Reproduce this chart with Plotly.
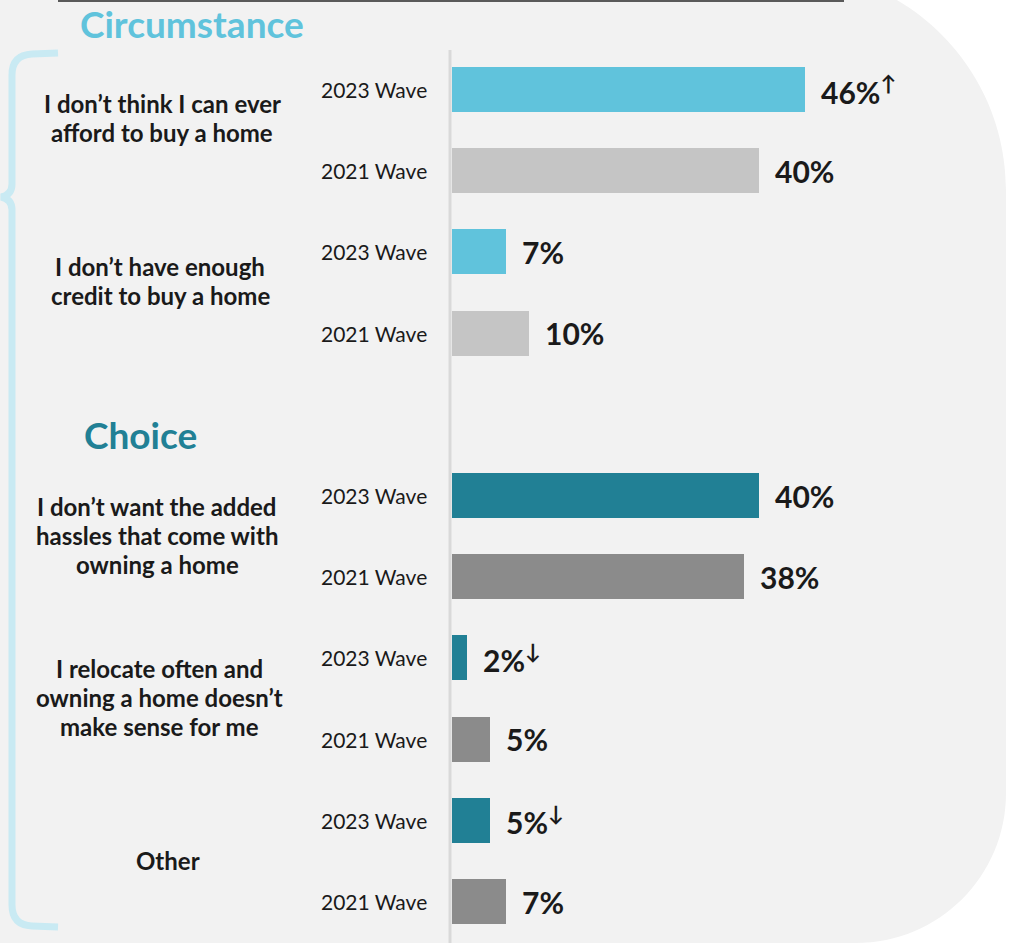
import plotly.graph_objects as go

# ---------------- data ----------------
reasons = [
    "I don’t think I can ever\nafford to buy a home",
    "I don’t have enough\ncredit to buy a home",
    "I don’t want the added\nhassles that come with\nowning a home",
    "I relocate often and\nowning a home doesn’t\nmake sense for me",
    "Other",
]
reason_group = ["Circumstance", "Circumstance", "Choice", "Choice", "Choice"]
waves = ["2023 Wave", "2021 Wave"]
values_2023 = [46, 7, 40, 2, 5]
values_2021 = [40, 10, 38, 5, 7]
sig_2023 = ["↑", "", "", "↓", "↓"]
sig_2021 = ["", "", "", "", ""]
group_titles = ["Circumstance", "Choice"]

# ---------------- styling / layout ----------------
W, H = 1013, 943
FONT = "Lato"
TXT = "#1a1a1a"
COLORS = {
    ("Circumstance", 0): "#60c3dc",
    ("Circumstance", 1): "#c5c5c5",
    ("Choice", 0): "#218095",
    ("Choice", 1): "#8b8b8b",
}
TITLE_COLORS = {"Circumstance": "#60c3dc", "Choice": "#218095"}

X0_PX = 452          # pixel of zero
PX_PER_UNIT = 7.674
ROW0_PX = 89.5
ROW_PX = 81.2
BAR_PX = 45

def px_x(px):
    return px / W

def px_y(py):
    return 1 - py / H

def row_of(r, w):
    return 2 * r + w + (1 if r >= 2 else 0)

def row_px(row):
    return ROW0_PX + ROW_PX * row

fig = go.Figure()

# bars
for w, vals, sigs in [(0, values_2023, sig_2023), (1, values_2021, sig_2021)]:
    ys = [row_of(r, w) for r in range(len(reasons))]
    cols = [COLORS[(reason_group[r], w)] for r in range(len(reasons))]
    fig.add_trace(go.Bar(
        x=vals, y=ys, orientation="h", marker=dict(color=cols, line=dict(width=0)),
        width=BAR_PX / ROW_PX, hoverinfo="skip", showlegend=False,
    ))
    for r in range(len(reasons)):
        txt = f"{vals[r]}%"
        if sigs[r]:
            txt += f"<sup>{sigs[r]}</sup>"
        fig.add_annotation(x=vals[r], y=ys[r], xref="x", yref="y", text=txt,
                           showarrow=False, xanchor="left", yanchor="middle", xshift=14,
                           font=dict(family=FONT, size=30, color=TXT, weight="bold"))
        fig.add_annotation(x=px_x(429), y=ys[r], xref="paper", yref="y", text=waves[w],
                           showarrow=False, xanchor="right", yanchor="middle",
                           font=dict(family=FONT, size=21, color=TXT))

# reason labels
LABEL_CX = [162, 160, 157, 159, 168]
LABEL_DY = [-12, -12, -1, -1, 0]
LINE_PX = 29
for r, lab in enumerate(reasons):
    lines = lab.split("\n")
    cy = (row_px(row_of(r, 0)) + row_px(row_of(r, 1))) / 2 + LABEL_DY[r]
    n = len(lines)
    for i, ln in enumerate(lines):
        y = cy + (i - (n - 1) / 2) * LINE_PX
        fig.add_annotation(x=px_x(LABEL_CX[r]), y=px_y(y), xref="paper", yref="paper",
                           text=ln, showarrow=False, xanchor="center", yanchor="middle",
                           font=dict(family=FONT, size=24, color=TXT, weight="bold"))

# group titles
TITLE_POS = {"Circumstance": (192, 24), "Choice": (140, 434)}
for g in group_titles:
    cx, cy = TITLE_POS[g]
    fig.add_annotation(x=px_x(cx), y=px_y(cy), xref="paper", yref="paper", text=g,
                       showarrow=False, xanchor="center", yanchor="middle",
                       font=dict(family=FONT, size=37, color=TITLE_COLORS[g], weight="bold"))

# background panel
def path_px(cmds):
    out = []
    for c in cmds:
        if isinstance(c, str):
            out.append(c)
        else:
            out.append(f"{px_x(c[0]):.5f},{px_y(c[1]):.5f}")
    return " ".join(out)

bg = path_px(["M", (-20, -30), "L", (786, -30),
              "C", (907.4, -30), (1006, 68.6), (1006, 190),
              "L", (1006, 793),
              "C", (1006, 876), (939, 943), (856, 943),
              "L", (856, 960), "L", (-20, 960), "Z"])
fig.add_shape(type="path", path=bg, xref="paper", yref="paper",
              fillcolor="#f2f2f2", line=dict(width=0), layer="below")

# top rule
fig.add_shape(type="line", x0=px_x(58), x1=px_x(844), y0=px_y(1), y1=px_y(1),
              xref="paper", yref="paper", line=dict(color="#5a5a5a", width=2))

# zero axis line
fig.add_shape(type="line", x0=px_x(450), x1=px_x(450), y0=px_y(50), y1=px_y(945),
              xref="paper", yref="paper", line=dict(color="#d9d9d9", width=3), layer="below")

# bracket
br = path_px(["M", (58, 53), "L", (32, 54), "Q", (12, 55), (12, 75),
              "L", (12, 184), "Q", (12, 195), (1, 197), "Q", (12, 199), (12, 210),
              "L", (12, 905), "Q", (12, 925), (32, 926), "L", (58, 927)])
fig.add_shape(type="path", path=br, xref="paper", yref="paper",
              line=dict(color="#c9eaf3", width=7), fillcolor="rgba(0,0,0,0)")

ymax = (H - ROW0_PX) / ROW_PX
ymin = -ROW0_PX / ROW_PX
fig.update_layout(
    width=W, height=H, autosize=False,
    margin=dict(l=0, r=0, t=0, b=0),
    paper_bgcolor="white", plot_bgcolor="rgba(0,0,0,0)",
    xaxis=dict(range=[-X0_PX / PX_PER_UNIT, (W - X0_PX) / PX_PER_UNIT], visible=False, fixedrange=True),
    yaxis=dict(range=[ymax, ymin], visible=False, fixedrange=True),
    showlegend=False, bargap=0,
)

fig.write_html("out.html")
